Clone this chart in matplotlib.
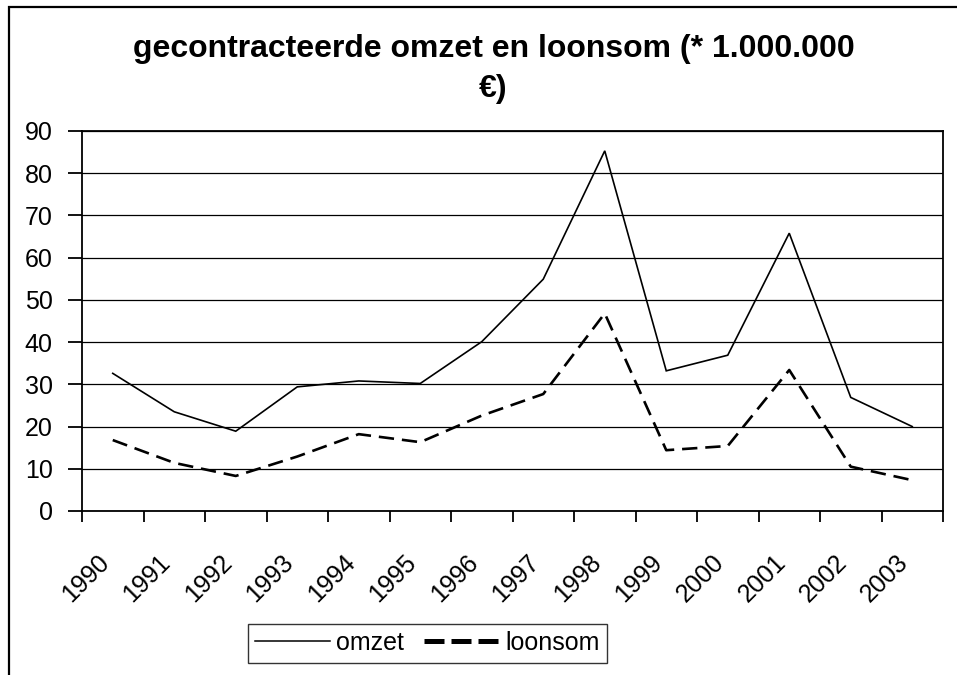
import matplotlib
matplotlib.use("Agg")
import matplotlib.pyplot as plt
from matplotlib.lines import Line2D
from matplotlib.patches import Rectangle
from matplotlib.transforms import ScaledTranslation

plt.rcParams['font.family'] = ['Liberation Sans', 'DejaVu Sans']

# data
years = ['1990', '1991', '1992', '1993', '1994', '1995', '1996',
         '1997', '1998', '1999', '2000', '2001', '2002', '2003']
omzet = [32.6, 23.5, 18.9, 29.4, 30.8, 30.2, 40.1,
         54.9, 85.3, 33.2, 36.9, 65.8, 26.9, 20.0]
loonsom = [16.8, 11.4, 8.3, 12.9, 18.2, 16.3, 22.6,
           27.7, 46.8, 14.4, 15.4, 33.4, 10.5, 7.3]
yticks = list(range(0, 100, 10))

W, H = 957, 675
fig = plt.figure(figsize=(W / 100, H / 100), dpi=100)
ax = fig.add_axes([82 / W, 1 - 511 / H, (943 - 82) / W, (511 - 131) / H])

x = list(range(len(years)))
ax.plot(x, omzet, color='black', lw=1.2, solid_joinstyle='miter')
ax.plot(x, loonsom, color='black', lw=1.9, linestyle=(0, (5.8, 3.0)))

ax.set_xlim(-0.5, len(years) - 0.5)
ax.set_ylim(0, 90)
ax.set_yticks(yticks)
ax.yaxis.grid(True, color='black', lw=0.9)
ax.set_axisbelow(True)

# tick marks on category boundaries, labels at category centres
ax.set_xticks([i - 0.5 for i in range(len(years) + 1)])
ax.set_xticklabels([])
ax.set_xticks(x, years, minor=True)
ax.tick_params(axis='x', which='major', direction='out', length=8, width=1.3)
ax.tick_params(axis='x', which='minor', length=0, pad=28, labelsize=18)
ax.tick_params(axis='y', direction='out', length=10, width=1.3, pad=11, labelsize=18)
shift = ScaledTranslation(-16 / 100, 0, fig.dpi_scale_trans)
for lab in ax.get_xticklabels(minor=True):
    lab.set_rotation(45)
    lab.set_rotation_mode('anchor')
    lab.set_ha('right')
    lab.set_va('top')
    lab.set_transform(lab.get_transform() + shift)

for s in ax.spines.values():
    s.set_linewidth(1.3)
    s.set_color('black')

# title (wrapped like the original)
fig.text(493.5 / W, 1 - 57 / H, 'gecontracteerde omzet en loonsom (* 1.000.000',
         ha='center', va='baseline', fontsize=23, fontweight='bold')
fig.text(493.5 / W, 1 - 97 / H, '€)', ha='center', va='baseline',
         fontsize=23, fontweight='bold')

handles = [Line2D([], [], color='black', lw=1.1),
           Line2D([], [], color='black', lw=3.6, linestyle=(0, (4, 1.4)))]
leg = fig.legend(handles, ['omzet', 'loonsom'], loc='center',
                 bbox_to_anchor=(427.5 / W, 1 - 643 / H), ncol=2,
                 fontsize=18, frameon=True, fancybox=False, shadow=False,
                 handlelength=3.0, handletextpad=0.25, columnspacing=0.8,
                 borderpad=0.3, borderaxespad=0)
leg.get_frame().set_edgecolor('black')
leg.get_frame().set_linewidth(1.0)

# outer chart frame (cut off at right and bottom in the original)
fig.patches.append(Rectangle((9 / W, -0.2), 1.2, 1 - 7 / H + 0.2,
                             transform=fig.transFigure, fill=False,
                             edgecolor='black', lw=1.6))

fig.savefig('out.png', dpi=100)
